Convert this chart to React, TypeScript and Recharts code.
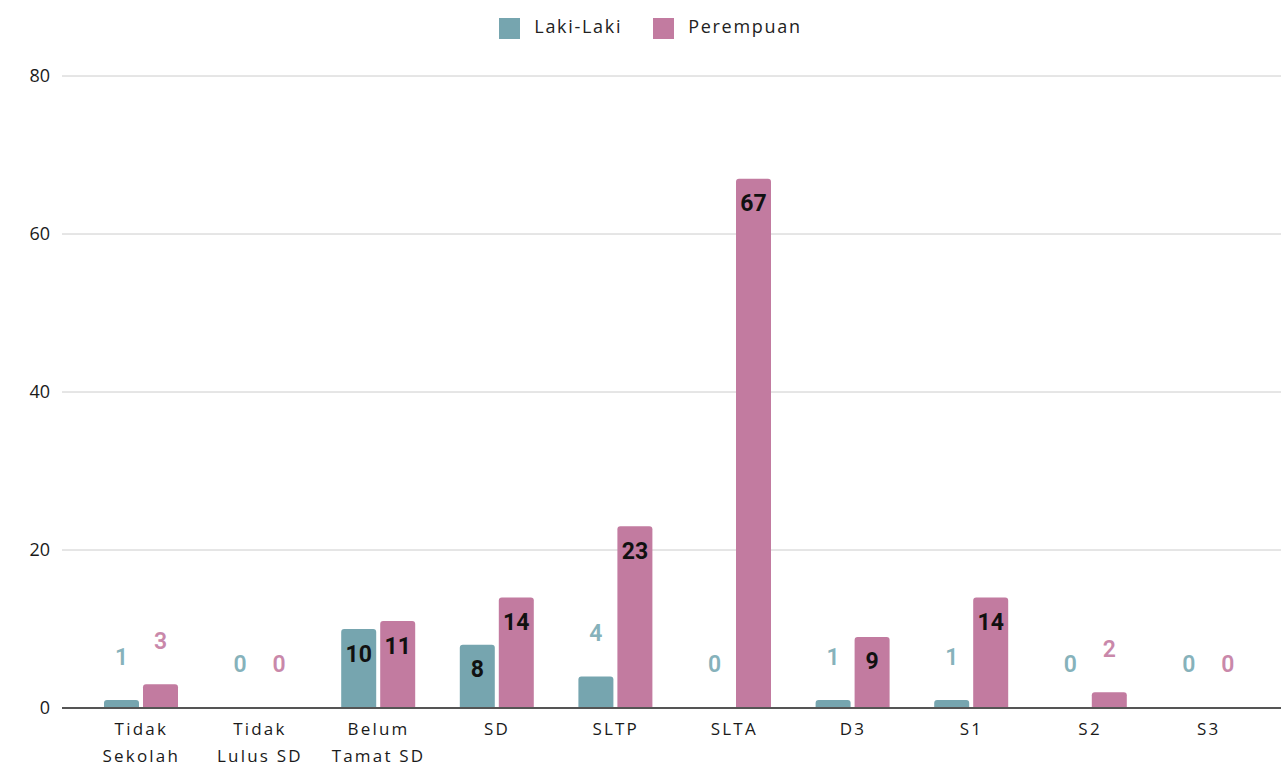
import { BarChart, Bar, XAxis, YAxis, CartesianGrid, Legend, LabelList } from 'recharts'

const categories = ['Tidak Sekolah', 'Tidak Lulus SD', 'Belum Tamat SD', 'SD', 'SLTP', 'SLTA', 'D3', 'S1', 'S2', 'S3']
const lakiLaki = [1, 0, 10, 8, 4, 0, 1, 1, 0, 0]
const perempuan = [3, 0, 11, 14, 23, 67, 9, 14, 2, 0]
const yTicks = [0, 20, 40, 60, 80]

const TEAL = '#76a5af'
const PINK = '#c27ba0'
const TEAL_TEXT = '#86b2bb'
const PINK_TEXT = '#c988aa'

const data = categories.map((name, i) => ({
  name,
  laki: lakiLaki[i],
  perempuan: perempuan[i],
}))

// two-line category labels: split at the first space
function CategoryTick(props: any) {
  const { x, y, payload } = props
  const label: string = payload.value
  const idx = label.indexOf(' ')
  const lines = idx > 0 ? [label.slice(0, idx), label.slice(idx + 1)] : [label]
  return (
    <g>
      {lines.map((line, i) => (
        <text
          key={i}
          x={x}
          y={y + 20 + i * 27}
          textAnchor="middle"
          dominantBaseline="central"
          fill="#1a1a1a"
          fontSize={17}
          letterSpacing={2.2}
          fontFamily="'Open Sans', sans-serif"
        >
          {line}
        </text>
      ))}
    </g>
  )
}

// big values sit inside the bar, small ones float above in the series colour
function makeValueLabel(color: string) {
  return function ValueLabel(props: any) {
    const { x, y, width, value } = props
    const inside = value >= 5
    return (
      <text
        x={x + width / 2}
        y={inside ? y + 25 : y - 43}
        textAnchor="middle"
        dominantBaseline="central"
        fill={inside ? '#111' : color}
        fontSize={23}
        fontWeight={inside ? 700 : 600}
        fontFamily="Roboto, sans-serif"
      >
        {value}
      </text>
    )
  }
}

export default function App() {
  return (
    <div style={{ position: 'absolute', left: 0, top: 0, background: '#fff' }}>
      <BarChart
        width={1281}
        height={767}
        data={data}
        margin={{ top: 10, right: 0, bottom: 9, left: 0 }}
        barSize={35}
        barGap={4}
      >
        <CartesianGrid vertical={false} stroke="#cccccc" />
        <Legend
          verticalAlign="top"
          align="center"
          height={66}
          iconType="square"
          iconSize={21}
          wrapperStyle={{
            top: 14,
            paddingLeft: 30,
            boxSizing: 'border-box',
            fontFamily: "'Open Sans', sans-serif",
            fontSize: 18,
            letterSpacing: 1.7,
          }}
          formatter={(value: string, _entry: any, index: number) => (
            <span style={{ color: '#222', marginLeft: 10, marginRight: index === 0 ? 21 : 0 }}>{value}</span>
          )}
        />
        <XAxis
          dataKey="name"
          axisLine={{ stroke: '#555', strokeWidth: 2 }}
          tickLine={false}
          tickSize={0}
          tickMargin={0}
          height={50}
          interval={0}
          padding={{ left: 20, right: 13 }}
          tick={<CategoryTick />}
        />
        <YAxis
          domain={[0, 80]}
          ticks={yTicks}
          width={62}
          axisLine={false}
          tickLine={false}
          tickMargin={6}
          tick={{ fill: '#1a1a1a', fontSize: 18, fontFamily: "'Open Sans', sans-serif" }}
        />
        <Bar dataKey="laki" name="Laki-Laki" fill={TEAL} radius={[3, 3, 0, 0]} minPointSize={0.01} isAnimationActive={false}>
          <LabelList dataKey="laki" content={makeValueLabel(TEAL_TEXT)} />
        </Bar>
        <Bar dataKey="perempuan" name="Perempuan" fill={PINK} radius={[3, 3, 0, 0]} minPointSize={0.01} isAnimationActive={false}>
          <LabelList dataKey="perempuan" content={makeValueLabel(PINK_TEXT)} />
        </Bar>
      </BarChart>
    </div>
  )
}
